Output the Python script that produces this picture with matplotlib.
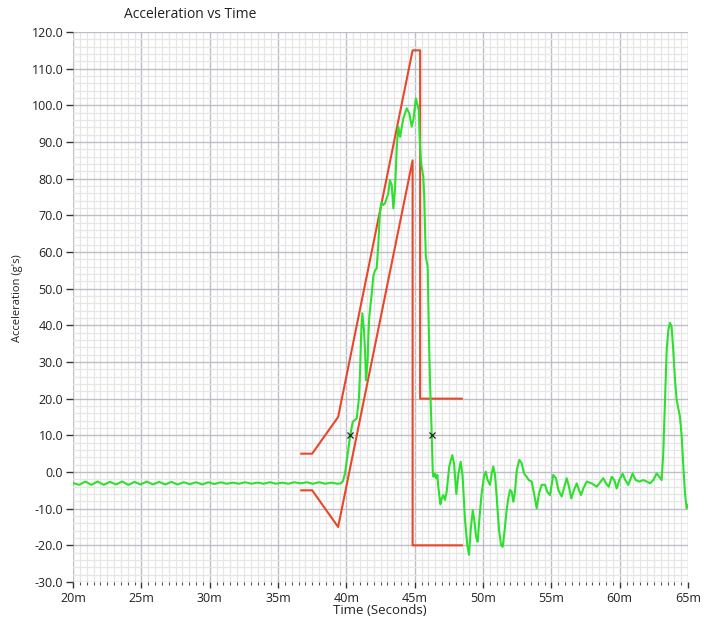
import matplotlib
matplotlib.use("Agg")
import matplotlib.pyplot as plt
from matplotlib.ticker import MultipleLocator, FuncFormatter

plt.rcParams['font.family'] = ['Open Sans', 'DejaVu Sans']

# ---------------- data ----------------
# green measured trace (time in ms, acceleration in g)
green_t = [20.0, 20.45, 20.9, 21.35, 21.8, 22.25, 22.7, 23.15, 23.6, 24.05, 24.5, 24.95,
           25.4, 25.85, 26.3, 26.75, 27.2, 27.65, 28.1, 28.55, 29.0, 29.45, 29.9, 30.35,
           30.8, 31.25, 31.7, 32.15, 32.6, 33.05, 33.5, 33.95, 34.4, 34.85, 35.3, 35.75,
           36.2, 36.65, 37.1, 37.55, 38.0, 38.45, 38.9, 39.35,
           39.6, 39.75, 39.9, 40.1, 40.27, 40.47, 40.76, 40.92, 41.0, 41.08, 41.17, 41.29,
           41.37, 41.44, 41.56, 41.61, 41.68, 41.86, 41.97, 42.10, 42.22, 42.34, 42.46,
           42.58, 42.70, 42.83, 43.07, 43.19, 43.32, 43.44, 43.56, 43.69, 43.80, 43.93,
           44.17, 44.42, 44.61, 44.78, 44.9, 45.09, 45.3, 45.37, 45.47, 45.63, 45.7, 45.76,
           45.82, 45.95, 46.04, 46.12, 46.2, 46.25, 46.32, 46.37, 46.49, 46.56, 46.66,
           46.73, 46.88, 46.98, 47.09, 47.22, 47.34, 47.53, 47.75, 47.88, 48.05, 48.19,
           48.37, 48.51, 48.68, 48.85, 48.98, 49.10, 49.25, 49.36, 49.49, 49.61, 49.73,
           49.90, 50.07, 50.20, 50.34, 50.51, 50.64, 50.75, 50.88, 51.0, 51.17, 51.32,
           51.44, 51.56, 51.73, 51.85, 51.98, 52.10, 52.22, 52.34, 52.47, 52.66, 52.83,
           53.0, 53.2, 53.35, 53.56, 53.73, 53.93, 54.10, 54.29, 54.54, 54.70, 54.90,
           55.14, 55.34, 55.51, 55.76, 55.95, 56.12, 56.29, 56.46, 56.66, 56.86, 57.02,
           57.17, 57.34, 57.59, 57.95, 58.32, 58.61, 58.80, 59.0, 59.20, 59.42, 59.61,
           59.78, 59.97, 60.22, 60.41, 60.63, 60.95, 61.17, 61.44, 61.73, 61.98, 62.22,
           62.46, 62.71, 62.90, 63.07, 63.19, 63.32, 63.44, 63.56, 63.68, 63.80, 63.92,
           64.05, 64.17, 64.41, 64.54, 64.66, 64.78, 64.90, 65.0]
green_v = [-3.0, -3.5, -2.6, -3.5, -2.6, -3.5, -2.7, -3.4, -2.6, -3.5, -2.7, -3.4,
           -2.6, -3.4, -2.7, -3.4, -2.7, -3.4, -2.8, -3.3, -2.8, -3.4, -2.8, -3.3,
           -2.8, -3.2, -2.9, -3.2, -2.8, -3.2, -2.9, -3.2, -2.8, -3.2, -2.9, -3.2,
           -2.8, -3.1, -2.8, -3.2, -2.8, -3.2, -2.9, -3.2,
           -3.1, -2.5, -0.4, 5.0, 9.6, 13.7, 14.6, 20.0, 27.0, 37.0, 43.3, 38.7,
           33.0, 25.0, 30.5, 36.9, 42.4, 48.7, 53.3, 55.0, 55.5, 62.0, 71.0,
           73.5, 72.8, 73.3, 76.0, 79.6, 78.3, 71.9, 76.9, 88.7, 94.2, 91.4,
           96.4, 99.2, 97.8, 94.2, 96.0, 101.9, 98.7, 90.5, 84.2, 80.5, 75.0, 66.0,
           58.7, 56.0, 37.8, 25.0, 16.0, 10.0, 0.5, -1.3, -0.4, -1.7, -0.8,
           -4.0, -8.8, -7.2, -6.3, -7.6, -5.4, 1.5, 4.6, 2.4, -6.0, -0.8,
           2.8, -1.3, -13.0, -19.9, -22.6, -15.8, -10.4, -13.0, -17.6, -19.0, -13.0,
           -5.8, -1.3, 0.1, -2.2, -3.5, -0.4, 1.5, -0.8, -6.7, -15.8, -19.9,
           -20.4, -16.7, -10.4, -7.2, -4.9, -5.4, -8.1, -5.4, 0.5, 3.3, 2.4,
           -0.4, -1.3, -2.2, -2.6, -5.8, -9.9, -5.8, -3.5, -3.5, -5.4, -6.3,
           -0.8, -1.7, -4.9, -6.7, -4.0, -1.7, -4.0, -7.2, -4.9, -3.1, -4.9,
           -6.3, -4.5, -2.6, -3.1, -4.0, -2.6, -1.7, -3.1, -4.0, -1.3, -2.2,
           -4.5, -2.2, -0.5, -2.2, -3.5, -0.4, -2.2, -2.6, -2.2, -2.6, -3.1,
           -2.2, -0.4, -1.3, -2.2, 5.1, 19.6, 33.3, 38.7, 40.7, 39.6, 33.3,
           25.1, 19.6, 15.1, 9.6, 1.4, -5.8, -9.9, -9.0]

# red upper corridor limit
upper_t = [36.7, 37.5, 39.4, 44.85, 45.4, 45.4, 48.45]
upper_v = [5.0, 5.0, 15.0, 115.0, 115.0, 20.0, 20.0]
# red lower corridor limit
lower_t = [36.7, 37.5, 39.4, 44.85, 44.85, 48.45]
lower_v = [-5.0, -5.0, -15.0, 85.0, -20.0, -20.0]

# marker points
mark_t = [40.3, 46.25]
mark_v = [10.0, 10.0]

x_ticks = [20, 25, 30, 35, 40, 45, 50, 55, 60, 65]
y_ticks = [-30, -20, -10, 0, 10, 20, 30, 40, 50, 60, 70, 80, 90, 100, 110, 120]

# ---------------- figure ----------------
fig = plt.figure(figsize=(7.06, 6.2), dpi=100)
ax = fig.add_axes([73 / 706, 1 - 582 / 620, (688 - 73) / 706, (582 - 32) / 620])

ax.set_xlim(20, 65)
ax.set_ylim(-30, 120)

ax.xaxis.set_minor_locator(MultipleLocator(0.5))
ax.yaxis.set_minor_locator(MultipleLocator(2))
ax.set_xticks(x_ticks)
ax.set_yticks(y_ticks)
ax.xaxis.set_major_formatter(FuncFormatter(lambda v, p: f"{v:.0f}m"))
ax.yaxis.set_major_formatter(FuncFormatter(lambda v, p: f"{v:.1f}"))

ax.grid(which='minor', color='#e6e6e6', linewidth=0.9)
ax.grid(which='major', color='#bcbfc8', linewidth=1.0)
ax.set_axisbelow(True)
for s in ax.spines.values():
    s.set_visible(False)

ax.tick_params(axis='y', which='major', length=5, width=1, color='#333333',
               labelsize=9, labelcolor='#222222', pad=2)
ax.tick_params(axis='y', which='minor', length=0)
ax.tick_params(axis='x', which='major', length=4, width=1, color='#333333',
               labelsize=9, labelcolor='#222222', pad=3)
ax.tick_params(axis='x', which='minor', length=2, width=0.8, color='#555555')

ax.plot(upper_t, upper_v, color='#e8472b', linewidth=1.5, zorder=3)
ax.plot(lower_t, lower_v, color='#e8472b', linewidth=1.5, zorder=3)
ax.plot(green_t, green_v, color='#2ee02e', linewidth=1.5, zorder=4)
ax.plot(mark_t, mark_v, linestyle='none', marker='x', markersize=4,
        markeredgewidth=0.9, color='#222222', zorder=5)

fig.text(190 / 706, 1 - 14 / 620, "Acceleration vs Time", ha='center', va='center',
         fontsize=10, color='#222222')
fig.text(380 / 706, 1 - 611 / 620, "Time (Seconds)", ha='center', va='center',
         fontsize=9.5, color='#222222')
fig.text(18 / 706, 1 - 298 / 620, "Acceleration (g's)", ha='center', va='center',
         rotation=90, fontsize=8, color='#222222')

fig.savefig("out.png", dpi=100, facecolor='white')
